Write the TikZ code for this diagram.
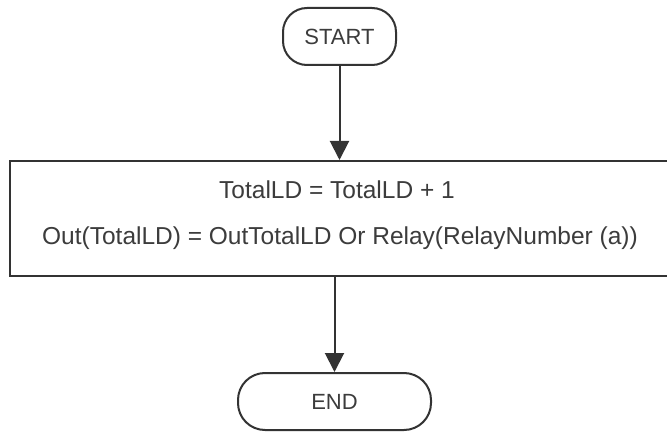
\documentclass[tikz,border=0pt]{standalone}
\usepackage{fontspec}
\setmainfont{Liberation Sans}
\usetikzlibrary{arrows.meta}

\definecolor{inkgray}{HTML}{333333}
\definecolor{textgray}{HTML}{3C3C3C}

\begin{document}
\begin{tikzpicture}[x=1pt, y=-1pt,
    terminal/.style={draw=inkgray, line width=2pt, minimum height=57pt,
        inner sep=0pt, text=textgray, font=\fontsize{22}{26}\selectfont},
    procbox/.style={draw=inkgray, line width=2pt, minimum width=680pt,
        minimum height=115pt, inner sep=0pt},
    eqtext/.style={text=textgray, inner sep=0pt, font=\fontsize{24.5}{29}\selectfont},
    flow/.style={draw=inkgray, line width=2pt,
        -{Triangle[width=19pt, length=19pt]}}]
    \fill[white] (0,0) rectangle (667,433);
    \useasboundingbox (0,0) rectangle (667,433);
    \clip (0,0) rectangle (667,433);

    % start and end of the routine
    \node[terminal, minimum width=113pt, rounded corners=24pt] (start) at (339.5,36.5) {START};
    \node[terminal, minimum width=193pt, rounded corners=27pt] (done) at (334.5,401.5) {END};

    % the one processing step
    \node[procbox] (update) at (350,218.5) {};
    \node[eqtext] (incr) at (337,190) {TotalLD = TotalLD + 1};
    \node[eqtext] (relay) at (340,238.5) {Out(TotalLD) = OutTotalLD Or Relay(RelayNumber (a))};

    \draw[flow] (start.south) -- (start.south |- update.north);
    \draw[flow] (update.south -| done.north) -- (done.north);
\end{tikzpicture}
\end{document}
